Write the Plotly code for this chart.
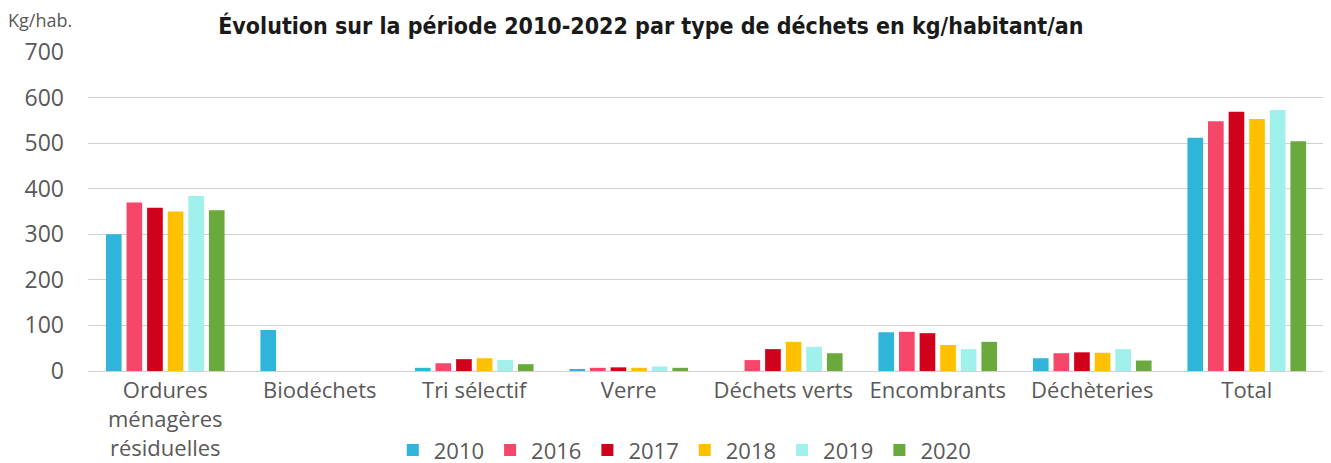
import plotly.graph_objects as go

categories = ["Ordures<br>ménagères<br>résiduelles", "Biodéchets", "Tri sélectif", "Verre",
              "Déchets verts", "Encombrants", "Déchèteries", "Total"]
years = ["2010", "2016", "2017", "2018", "2019", "2020"]
v2010 = [300, 90, 7, 3, 0, 85, 28, 512]
v2016 = [370, 0, 17, 7, 24, 86, 39, 548]
v2017 = [358, 0, 26, 8, 48, 83, 41, 569]
v2018 = [350, 0, 28, 7, 64, 57, 40, 553]
v2019 = [384, 0, 24, 10, 53, 48, 48, 573]
v2020 = [353, 0, 15, 7, 39, 64, 23, 504]
series = [v2010, v2016, v2017, v2018, v2019, v2020]
colors = ["#2EB5D9", "#F4476A", "#D0021B", "#FFC000", "#A0F0EC", "#6AAA3C"]
y_ticks = [0, 100, 200, 300, 400, 500, 600, 700]

fig = go.Figure()
for name, vals, c in zip(years, series, colors):
    fig.add_trace(go.Bar(name=name, x=categories, y=vals, marker_color=c, marker_line_width=0))

gray = "#595959"
fnt = "Open Sans, Lato, sans-serif"
fig.update_layout(
    width=1331, height=463,
    margin=dict(l=80, r=15, t=44, b=100, autoexpand=False),
    paper_bgcolor="white", plot_bgcolor="white",
    barmode="group", bargap=0.2, bargroupgap=0.24,
    font=dict(family=fnt, size=22, color=gray),
    title=dict(text="<b>Évolution sur la période 2010-2022 par type de déchets en kg/habitant/an</b>",
               x=0.483, xanchor="center", y=0.962, yanchor="middle", yref="container",
               font=dict(family="DejaVu Sans Condensed, Roboto, sans-serif", size=23, color="#1a1a1a")),
    legend=dict(orientation="h", x=0.482, xanchor="center", y=-0.248, yanchor="middle",
                font=dict(family=fnt, size=22, color=gray), itemwidth=32, traceorder="normal"),
    showlegend=True,
)
fig.update_xaxes(showgrid=False, showline=True, linecolor="#d0d0d0", linewidth=1, ticks="",
                 automargin=False, tickfont=dict(family=fnt, size=22, color=gray))
fig.update_yaxes(range=[0, 700], tickvals=y_ticks, showgrid=True, gridcolor="#d0d0d0", gridwidth=1,
                 automargin=False, zeroline=False, showline=False, ticks="", ticklabelstandoff=23,
                 tickfont=dict(family=fnt, size=23, color=gray))
fig.add_annotation(text="Kg/hab.", xref="paper", yref="paper", x=-0.066, y=1.0, xanchor="left",
                   yanchor="middle", yshift=32, showarrow=False,
                   font=dict(family=fnt, size=18, color=gray))

fig.write_html("out.html")
